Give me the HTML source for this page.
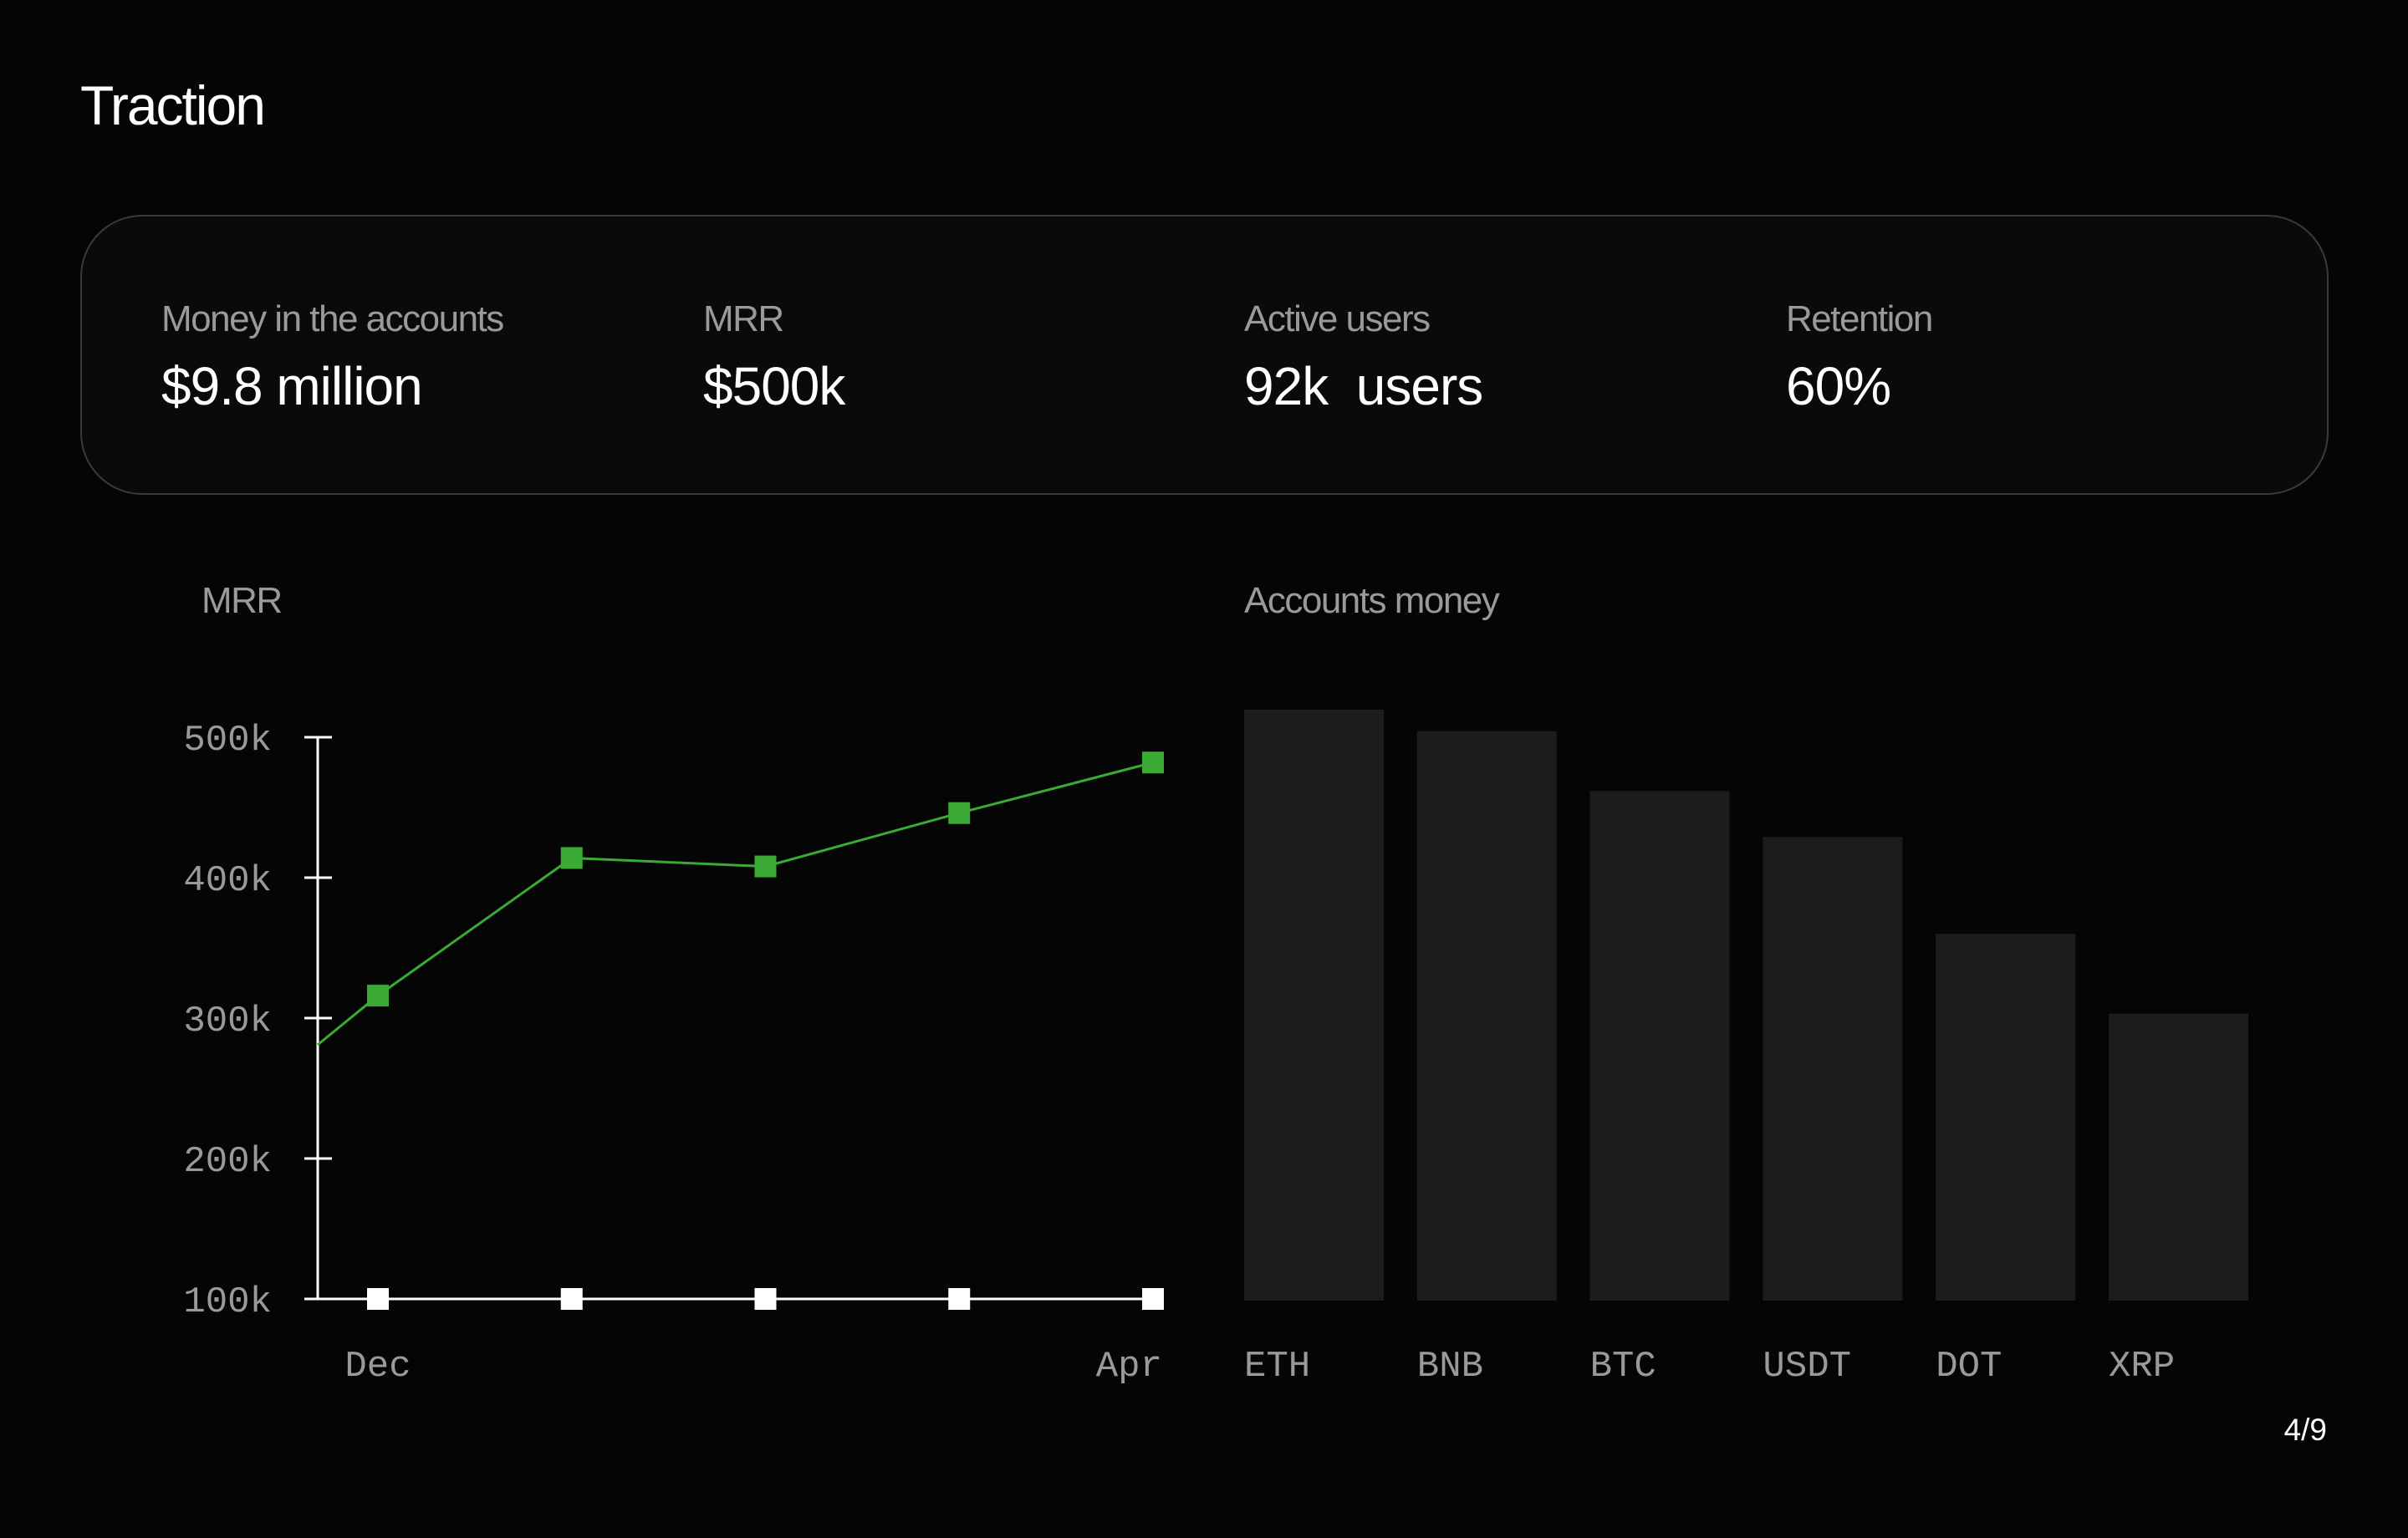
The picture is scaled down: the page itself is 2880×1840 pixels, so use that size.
<!DOCTYPE html>
<html><head><meta charset="utf-8"><style>
html,body{margin:0;padding:0;background:#050505;}
body{width:2880px;height:1840px;position:relative;overflow:hidden;font-family:"Liberation Sans",sans-serif;}
.t{position:absolute;white-space:nowrap;}
</style></head><body>
<div class="t" style="left:96px;top:88px;font-size:66px;color:#fff;letter-spacing:-2px;">Traction</div>
<div style="position:absolute;left:96px;top:257px;width:2685px;height:331px;border:2px solid #3a3a3a;border-radius:74px;background:#0a0a0a;"></div>
<div class="t" style="left:193px;top:357px;font-size:44px;color:#9a9a9a;letter-spacing:-1.5px;">Money in the accounts</div>
<div class="t" style="left:193px;top:425px;font-size:64px;color:#fff;letter-spacing:-1px;">$9.8 million</div>
<div class="t" style="left:841px;top:357px;font-size:44px;color:#9a9a9a;letter-spacing:-1.5px;">MRR</div>
<div class="t" style="left:841px;top:425px;font-size:64px;color:#fff;letter-spacing:-1px;">$500k</div>
<div class="t" style="left:1488px;top:357px;font-size:44px;color:#9a9a9a;letter-spacing:-1.5px;">Active users</div>
<div class="t" style="left:1488px;top:425px;font-size:64px;color:#fff;letter-spacing:-1px;">92k&nbsp; users</div>
<div class="t" style="left:2136px;top:357px;font-size:44px;color:#9a9a9a;letter-spacing:-1.5px;">Retention</div>
<div class="t" style="left:2136px;top:425px;font-size:64px;color:#fff;letter-spacing:-1px;">60%</div>
<div class="t" style="left:241px;top:694px;font-size:44px;color:#9a9a9a;letter-spacing:-1.5px;">MRR</div>
<div class="t" style="left:1488px;top:694px;font-size:44px;color:#9a9a9a;letter-spacing:-1.5px;">Accounts money</div>
<div class="t" style="right:97px;top:1690px;font-size:37px;color:#fff;">4/9</div>
<svg id="chart" width="2880" height="1840" style="position:absolute;left:0;top:0;"></svg>
<script>
const lineCats=["Dec","Jan","Feb","Mar","Apr"];
const lineValues=[316,414,408,446,482];
const leadValue=281;
const yTicks=[100,200,300,400,500];
const yTickLabels=["100k","200k","300k","400k","500k"];
const xLabels=["Dec","","","","Apr"];
const barCats=["ETH","BNB","BTC","USDT","DOT","XRP"];
const barValues=[385,371,332,302,239,187];

const NS="http://www.w3.org/2000/svg";
const svg=document.getElementById('chart');
function mk(tag,attrs,parent){const e=document.createElementNS(NS,tag);for(const k in attrs)e.setAttribute(k,attrs[k]);(parent||svg).appendChild(e);return e;}
// line chart axes
const axX=380, y0=1554, y1=882;
const yS=v=>y0-(v-100)/(500-100)*(y0-y1);
const xS=i=>452+i*(1379-452)/(lineCats.length-1);
const g=mk('g',{});


const ya=mk('line',{x1:axX,y1:y1,x2:axX,y2:y0,stroke:'#fff','stroke-width':3},g);

const xa=mk('line',{x1:364,y1:y0,x2:1390,y2:y0,stroke:'#fff','stroke-width':3},g);

yTicks.forEach((v,i)=>{
  const tk=mk('line',{x1:364,x2:397,y1:yS(v),y2:yS(v),stroke:'#fff','stroke-width':3},g);
  
  const tl=mk('text',{x:325,y:yS(v)+15,'text-anchor':'end','font-family':'Liberation Mono, monospace','font-size':44,fill:'#9a9a9a'},g);
  tl.textContent=yTickLabels[i];
  
});
let pts=[[axX,yS(leadValue)]].concat(lineValues.map((v,i)=>[xS(i),yS(v)]));
const pl=mk('polyline',{points:pts.map(p=>p.join(',')).join(' '),fill:'none',stroke:'#3aaa35','stroke-width':3},g);

lineValues.forEach((v,i)=>{
  const m=mk('rect',{x:xS(i)-13,y:yS(v)-13,width:26,height:26,fill:'#3aaa35'},g);
  
  const w=mk('rect',{x:xS(i)-13,y:y0-13,width:26,height:26,fill:'#fff'},g);
  
  if(xLabels[i]){
    const last=i===lineCats.length-1;
    const t=mk('text',{x:last?1390:xS(i),y:1646,'text-anchor':last?'end':'middle','font-family':'Liberation Mono, monospace','font-size':44,fill:'#9a9a9a'},g);
    t.textContent=xLabels[i];
    
  }
});
// bar chart
const bBase=1556, bMaxH=707, bMax=385, bW=167, bStep=206.8, bX0=1488;
const hS=v=>v/bMax*bMaxH;
const bg=mk('g',{});


barValues.forEach((v,i)=>{
  const x=bX0+i*bStep;
  const r=mk('rect',{x:x,y:bBase-hS(v),width:bW,height:hS(v),fill:'#1c1c1c'},bg);
  
  
  const t=mk('text',{x:x,y:1646,'font-family':'Liberation Mono, monospace','font-size':44,fill:'#9a9a9a'},bg);
  t.textContent=barCats[i];
  
  
});
</script>
</body></html>
